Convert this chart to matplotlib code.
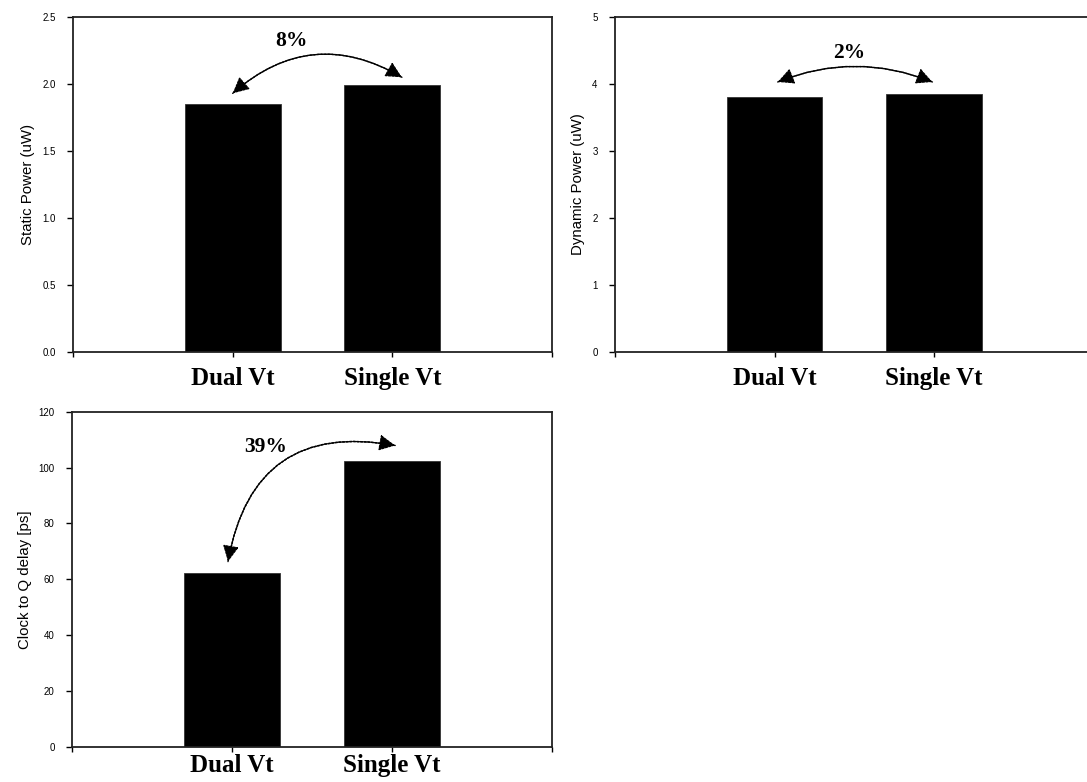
import matplotlib
matplotlib.use("Agg")
import matplotlib.pyplot as plt
from matplotlib.patches import FancyArrowPatch

# Data
categories = ["Dual Vt", "Single Vt"]
static_power = [1.85, 1.99]      # uW
dynamic_power = [3.81, 3.85]     # uW
clk_q_delay = [62.4, 102.3]      # ps
percent_labels = ["8%", "2%", "39%"]

W, H = 1087, 782
fig = plt.figure(figsize=(W / 100, H / 100), dpi=100)

def px_axes(left, top, width, height):
    return fig.add_axes([left / W, 1 - (top + height) / H, width / W, height / H])

serif_bold = dict(family="Liberation Serif", weight="bold")

def style(ax, ymax, ystep, ylabel, fmt, xpad):
    ax.set_xlim(0, 3)
    ax.set_ylim(0, ymax)
    ticks = []
    v = 0.0
    while v <= ymax + 1e-9:
        ticks.append(round(v, 6))
        v += ystep
    ax.set_yticks(ticks)
    ax.set_yticklabels([fmt.format(t) for t in ticks], family="Liberation Sans", fontsize=7)
    ax.set_xticks([0, 1, 2, 3])
    ax.set_xticklabels([""] + categories + [""], fontsize=18, **serif_bold)
    ax.tick_params(axis="y", direction="out", length=4.5, width=1.0, pad=8)
    ax.tick_params(axis="x", direction="out", length=3.5, width=1.0, pad=xpad)
    for s in ax.spines.values():
        s.set_linewidth(1.3)
        s.set_color("#222222")
    ax.set_ylabel(ylabel, family="Liberation Sans", fontsize=10.8, labelpad=5)

def draw(ax, values):
    ax.bar([1, 2], values, width=0.6, color="black", edgecolor="#333333", linewidth=0.6, zorder=2)

def curved_arrow(ax, p_from, p_to, rad, text, tpos):
    kw = dict(arrowstyle="-|>,head_length=0.7,head_width=0.35",
              mutation_scale=14, color="black", linewidth=1.0,
              linestyle=(0, (1.6, 1.0)), shrinkA=0, shrinkB=0, zorder=3)
    ax.add_patch(FancyArrowPatch(p_from, p_to, connectionstyle=f"arc3,rad={rad}", **kw))
    ax.add_patch(FancyArrowPatch(p_to, p_from, connectionstyle=f"arc3,rad={-rad}", **kw))
    ax.text(tpos[0], tpos[1], text, ha="center", va="center", fontsize=15.5, **serif_bold)

# Static power
ax1 = px_axes(73, 17, 479, 335)
draw(ax1, static_power)
style(ax1, 2.5, 0.5, "Static Power (uW)", "{:.1f}", 7.5)
curved_arrow(ax1, (1.0, 1.93), (2.06, 2.05), -0.36, percent_labels[0], (1.37, 2.32))

# Dynamic power
ax2 = px_axes(615, 17, 478.5, 335)
draw(ax2, dynamic_power)
style(ax2, 5, 1, "Dynamic Power (uW)", "{:.0f}", 7.5)
curved_arrow(ax2, (1.02, 4.03), (1.99, 4.03), -0.2, percent_labels[1], (1.47, 4.46))

# Clock-to-Q delay
ax3 = px_axes(72, 411.7, 480, 335)
draw(ax3, clk_q_delay)
style(ax3, 120, 20, "Clock to Q delay [ps]", "{:.0f}", 1.5)
curved_arrow(ax3, (0.975, 66.3), (2.02, 107.9), -0.5, percent_labels[2], (1.21, 107.5))

fig.savefig("out.png", dpi=100)
